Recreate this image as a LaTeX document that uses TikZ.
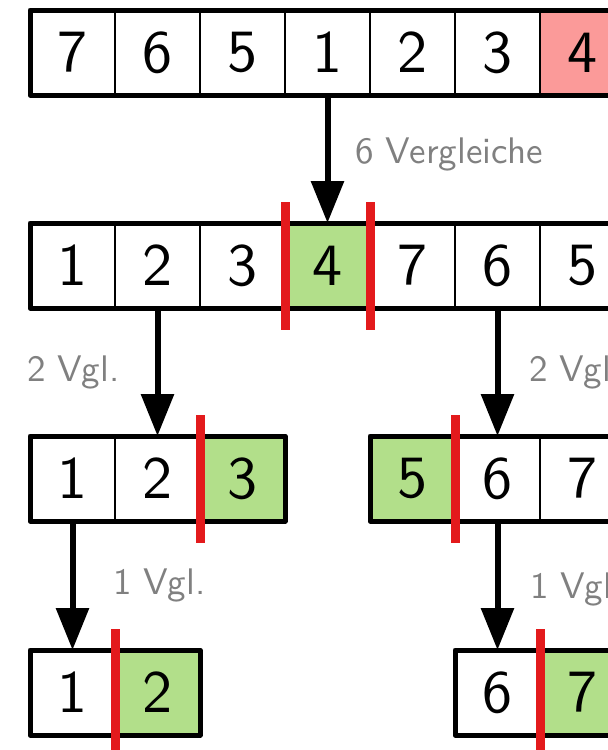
\documentclass[tikz,border=0pt]{standalone}
\usepackage{fontspec}
\usetikzlibrary{arrows.meta}

% Latin Modern Sans at its 10pt design size, scaled up
\newfontfamily\cellfont{lmsans10-regular.otf}

% ColorBrewer "Paired" tones
\definecolor{pivotpink}{HTML}{FB9A99}
\definecolor{placedgreen}{HTML}{B2DF8A}
\definecolor{splitred}{HTML}{E31A1C}
\definecolor{notegray}{HTML}{808080}

\begin{document}
\begin{tikzpicture}[x=1pt,y=-1pt,
  cell/.style={draw=black, line width=2.5pt, minimum size=85pt, inner sep=0pt,
    outer sep=0pt, anchor=north west, font=\cellfont\fontsize{60}{60}\selectfont},
  placed/.style={cell, fill=placedgreen},
  pivot/.style={cell, fill=pivotpink},
  frame/.style={draw=black, line width=5pt, line join=round},
  splitbar/.style={draw=splitred, line width=9pt},
  arr/.style={draw=black, line width=6pt,
    -{Triangle[width=32pt,length=42pt]}},
  note/.style={anchor=base west, inner sep=0pt, text=notegray,
    font=\cellfont\fontsize{37}{37}\selectfont}]

\useasboundingbox (0,0) rectangle (608,750);
\clip (0,0) rectangle (608,750);

% input array, pivot is the last element
\node[cell]  (t1) at (30,10)  {7};
\node[cell]  (t2) at (115,10) {6};
\node[cell]  (t3) at (200,10) {5};
\node[cell]  (t4) at (285,10) {1};
\node[cell]  (t5) at (370,10) {2};
\node[cell]  (t6) at (455,10) {3};
\node[pivot] (t7) at (540,10) {4};
\draw[frame] (t1.north west) rectangle (t7.south east);

% after the first partition step
\node[cell]   (m1) at (30,223)  {1};
\node[cell]   (m2) at (115,223) {2};
\node[cell]   (m3) at (200,223) {3};
\node[placed] (m4) at (285,223) {4};
\node[cell]   (m5) at (370,223) {7};
\node[cell]   (m6) at (455,223) {6};
\node[cell]   (m7) at (540,223) {5};
\draw[frame] (m1.north west) rectangle (m7.south east);

% left and right sub-arrays
\node[cell]   (a1) at (30,436)  {1};
\node[cell]   (a2) at (115,436) {2};
\node[placed] (a3) at (200,436) {3};
\draw[frame] (a1.north west) rectangle (a3.south east);

\node[placed] (b1) at (370,436) {5};
\node[cell]   (b2) at (455,436) {6};
\node[cell]   (b3) at (540,436) {7};
\draw[frame] (b1.north west) rectangle (b3.south east);

% last level
\node[cell]   (c1) at (30,650)  {1};
\node[placed] (c2) at (115,650) {2};
\draw[frame] (c1.north west) rectangle (c2.south east);

\node[cell]   (d1) at (455,650) {6};
\node[placed] (d2) at (540,650) {7};
\draw[frame] (d1.north west) rectangle (d2.south east);

% partition boundaries
\draw[splitbar] ([yshift=21pt]m4.north west) -- ([yshift=-22pt]m4.south west);
\draw[splitbar] ([yshift=21pt]m4.north east) -- ([yshift=-22pt]m4.south east);
\draw[splitbar] ([yshift=21pt]a3.north west) -- ([yshift=-22pt]a3.south west);
\draw[splitbar] ([yshift=21pt]b1.north east) -- ([yshift=-22pt]b1.south east);
\draw[splitbar] ([yshift=21pt]c2.north west) -- ([yshift=-30pt]c2.south west);
\draw[splitbar] ([yshift=21pt]d2.north west) -- ([yshift=-30pt]d2.south west);

% recursion steps
\draw[arr] (t4.south) -- (m4.north);
\draw[arr] (m2.south) -- (a2.north);
\draw[arr] (m6.south) -- (b2.north);
\draw[arr] (a1.south) -- (c1.north);
\draw[arr] (b2.south) -- (d1.north);

% comparison counts
\node[note] (n1) at (355,163) {6 Vergleiche};
\node[note] (n2) at (27,381)  {2 Vgl.};
\node[note] (n3) at (529,381) {2 Vgl.};
\node[note] (n4) at (113,594) {1 Vgl.};
\node[note] (n5) at (530,598) {1 Vgl.};
\end{tikzpicture}
\end{document}
